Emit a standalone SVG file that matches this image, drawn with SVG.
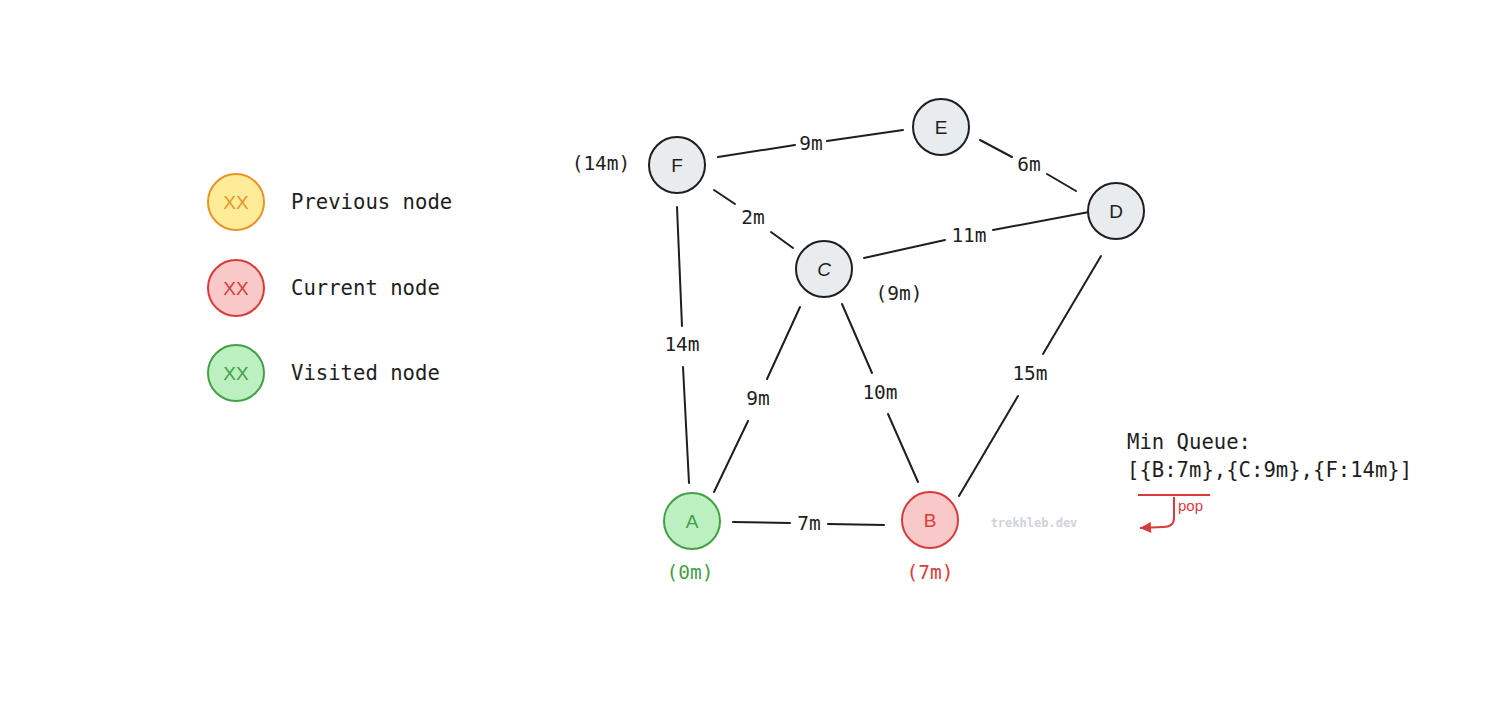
<svg xmlns="http://www.w3.org/2000/svg" width="1488" height="704" viewBox="0 0 1488 704">
<defs>
<style>
.mono{font-family:"DejaVu Sans Mono","Liberation Mono",monospace;font-size:20.6px;fill:#1e1e1e}
.lbl{font-family:"DejaVu Sans Mono","Liberation Mono",monospace;font-size:19.5px;fill:#1e1e1e;text-anchor:middle;dominant-baseline:central}
.nt{font-family:"Liberation Sans","DejaVu Sans",sans-serif;font-size:19px;text-anchor:middle;dominant-baseline:central}
.edge{stroke:#1e1e1e;stroke-width:2;fill:none;stroke-linecap:round}
.gray{fill:#e9ecef;stroke:#1e1e1e;stroke-width:2}
.yellow{fill:#ffec99;stroke:#e8942a;stroke-width:2}
.red{fill:#f9c9c9;stroke:#d93b3b;stroke-width:2}
.green{fill:#bdf0c0;stroke:#43a047;stroke-width:2}
</style>
<marker id="arr" viewBox="0 0 10 10" refX="10" refY="5" markerWidth="13" markerHeight="11" markerUnits="userSpaceOnUse" orient="auto-start-reverse">
<path d="M0,0 L10,5 L0,10 z" fill="#d93b3b"/>
</marker>
</defs>
<rect width="1488" height="704" fill="#ffffff"/>

<g id="legend">
<g id="legend-previous">
<circle cx="236" cy="202" r="28" class="yellow"/>
<text x="236" y="202" class="nt" fill="#e8942a">XX</text>
<text x="291" y="209" class="mono">Previous node</text>
</g>
<g id="legend-current">
<circle cx="236" cy="288" r="28" class="red"/>
<text x="236" y="288" class="nt" fill="#d93b3b">XX</text>
<text x="291" y="295" class="mono">Current node</text>
</g>
<g id="legend-visited">
<circle cx="236" cy="373" r="28" class="green"/>
<text x="236" y="373" class="nt" fill="#43a047">XX</text>
<text x="291" y="380" class="mono">Visited node</text>
</g>
</g>

<g id="connectors">
<line x1="718" y1="157" x2="795" y2="145" class="edge"/>
<line x1="827" y1="141" x2="903" y2="130" class="edge"/>
<text x="811" y="143" class="lbl">9m</text>

<line x1="980" y1="140" x2="1012" y2="157" class="edge"/>
<line x1="1047" y1="174" x2="1076" y2="191" class="edge"/>
<text x="1029" y="164" class="lbl">6m</text>

<line x1="714" y1="190" x2="735" y2="204" class="edge"/>
<line x1="771" y1="232" x2="793" y2="248" class="edge"/>
<text x="753" y="217" class="lbl">2m</text>

<line x1="864" y1="258" x2="945" y2="240" class="edge"/>
<line x1="993" y1="230" x2="1089" y2="212" class="edge"/>
<text x="969" y="235" class="lbl">11m</text>

<line x1="677" y1="207" x2="682" y2="326" class="edge"/>
<line x1="683" y1="367" x2="689" y2="483" class="edge"/>
<text x="682" y="344" class="lbl">14m</text>

<line x1="800" y1="307" x2="767" y2="379" class="edge"/>
<line x1="748" y1="421" x2="714" y2="492" class="edge"/>
<text x="758" y="398" class="lbl">9m</text>

<line x1="842" y1="304" x2="872" y2="373" class="edge"/>
<line x1="888" y1="414" x2="918" y2="482" class="edge"/>
<text x="880" y="392" class="lbl">10m</text>

<line x1="1101" y1="256" x2="1043" y2="354" class="edge"/>
<line x1="1018" y1="396" x2="959" y2="496" class="edge"/>
<text x="1030" y="373" class="lbl">15m</text>

<line x1="733" y1="522" x2="790" y2="523" class="edge"/>
<line x1="828" y1="524" x2="884" y2="525" class="edge"/>
<text x="809" y="523" class="lbl">7m</text>
</g>

<g id="node-F">
<circle cx="677" cy="165" r="28" class="gray"/>
<text x="677" y="165" class="nt" fill="#1e1e1e">F</text>
<text x="601" y="163" class="lbl">(14m)</text>
</g>
<g id="node-E">
<circle cx="941" cy="127" r="28" class="gray"/>
<text x="941" y="127" class="nt" fill="#1e1e1e">E</text>
</g>
<g id="node-D">
<circle cx="1116" cy="211" r="28" class="gray"/>
<text x="1116" y="211" class="nt" fill="#1e1e1e">D</text>
</g>
<g id="node-C">
<circle cx="824" cy="269" r="28" class="gray"/>
<text x="824" y="269" class="nt" fill="#1e1e1e" font-style="italic">C</text>
<text x="899" y="293" class="lbl">(9m)</text>
</g>
<g id="node-A">
<circle cx="692" cy="521" r="28" class="green"/>
<text x="692" y="521" class="nt" fill="#43a047">A</text>
<text x="690" y="572" class="lbl" style="fill:#43a047">(0m)</text>
</g>
<g id="node-B">
<circle cx="930" cy="520" r="28" class="red"/>
<text x="930" y="520" class="nt" fill="#d93b3b">B</text>
<text x="930" y="572" class="lbl" style="fill:#d93b3b">(7m)</text>
</g>

<text x="1034" y="523" font-family="DejaVu Sans Mono,monospace" font-size="12" font-weight="bold" fill="#ced4da" text-anchor="middle" dominant-baseline="central">trekhleb.dev</text>

<g id="queue">
<text x="1127" y="449" class="mono">Min Queue:</text>
<text x="1127" y="477" class="mono">[{B:7m},{C:9m},{F:14m}]</text>
<line x1="1138" y1="495" x2="1210" y2="495" stroke="#d93b3b" stroke-width="2"/>
<path d="M1174,497 L1174,518 Q1174,527 1163,527 L1140,528" stroke="#d93b3b" stroke-width="2" fill="none" marker-end="url(#arr)"/>
<text x="1178" y="511" font-family="Liberation Sans,sans-serif" font-size="15" fill="#d93b3b">pop</text>
</g>
</svg>
